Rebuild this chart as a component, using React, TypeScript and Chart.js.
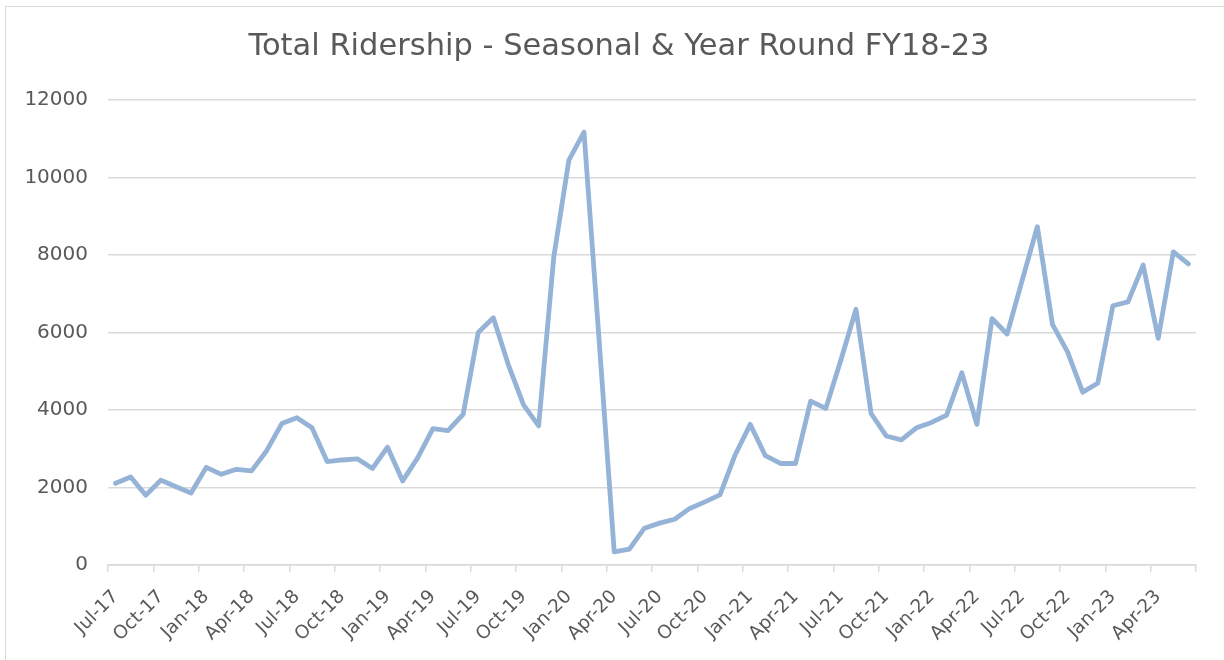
import React, { useEffect, useRef } from "react";
import { Chart, registerables } from "chart.js";

Chart.register(...registerables);

const TITLE = "Total Ridership - Seasonal & Year Round FY18-23";

const MONTHS: string[] = [
  "Jul-17", "Aug-17", "Sep-17", "Oct-17", "Nov-17", "Dec-17",
  "Jan-18", "Feb-18", "Mar-18", "Apr-18", "May-18", "Jun-18",
  "Jul-18", "Aug-18", "Sep-18", "Oct-18", "Nov-18", "Dec-18",
  "Jan-19", "Feb-19", "Mar-19", "Apr-19", "May-19", "Jun-19",
  "Jul-19", "Aug-19", "Sep-19", "Oct-19", "Nov-19", "Dec-19",
  "Jan-20", "Feb-20", "Mar-20", "Apr-20", "May-20", "Jun-20",
  "Jul-20", "Aug-20", "Sep-20", "Oct-20", "Nov-20", "Dec-20",
  "Jan-21", "Feb-21", "Mar-21", "Apr-21", "May-21", "Jun-21",
  "Jul-21", "Aug-21", "Sep-21", "Oct-21", "Nov-21", "Dec-21",
  "Jan-22", "Feb-22", "Mar-22", "Apr-22", "May-22", "Jun-22",
  "Jul-22", "Aug-22", "Sep-22", "Oct-22", "Nov-22", "Dec-22",
  "Jan-23", "Feb-23", "Mar-23", "Apr-23", "May-23", "Jun-23",
];

const RIDERSHIP: number[] = [
  2110, 2270, 1800, 2190, 2020, 1860,
  2520, 2340, 2470, 2430, 2950, 3650,
  3800, 3540, 2670, 2710, 2740, 2490,
  3040, 2170, 2770, 3520, 3470, 3890,
  6000, 6380, 5160, 4130, 3590, 7950,
  10450, 11170, 5800, 340, 410, 950,
  1080, 1180, 1460, 1630, 1810, 2840,
  3630, 2820, 2620, 2620, 4230, 4040,
  5290, 6600, 3910, 3330, 3230, 3540,
  3680, 3870, 4960, 3630, 6360, 5960,
  7350, 8730, 6210, 5500, 4460, 4690,
  6690, 6790, 7740, 5850, 8080, 7770,
];

const Y_MIN = 0;
const Y_MAX = 12000;
const Y_STEP = 2000;

const TEXT = "#595959";
const GRID = "#d9d9d9";
const LINE = "#95b3d7";
const FONT = "'DejaVu Sans', sans-serif";

const centeredTitle = {
  id: "centeredTitle",
  afterDraw(chart: any) {
    const ctx = chart.ctx;
    ctx.save();
    ctx.fillStyle = TEXT;
    ctx.font = `normal 30.5px ${FONT}`;
    ctx.textAlign = "center";
    ctx.textBaseline = "middle";
    ctx.fillText(TITLE, chart.width / 2, 40.5);
    ctx.restore();
  },
};

export default function App() {
  const ref = useRef<HTMLCanvasElement | null>(null);

  useEffect(() => {
    const prevOverflow = document.body.style.overflow;
    document.body.style.overflow = "hidden";
    if (!ref.current) return;
    const chart = new Chart(ref.current, {
      type: "line",
      data: {
        labels: MONTHS,
        datasets: [
          {
            data: RIDERSHIP,
            borderColor: LINE,
            backgroundColor: LINE,
            borderWidth: 4.8,
            pointRadius: 0,
            tension: 0,
            borderJoinStyle: "round",
            borderCapStyle: "round",
          },
        ],
      },
      options: {
        responsive: false,
        animation: false,
        devicePixelRatio: 1,
        layout: { padding: { left: 18, right: 36, top: 93, bottom: 0 } },
        plugins: {
          legend: { display: false },
          tooltip: { enabled: false },
          title: { display: false },
        },
        scales: {
          x: {
            offset: true,
            border: { display: true, color: GRID, width: 1.5 },
            grid: {
              display: true,
              offset: true,
              drawOnChartArea: false,
              drawTicks: true,
              tickLength: 7,
              lineWidth: 1.5,
              color: (ctx: any) =>
                ctx.index === undefined || ctx.index % 3 === 0 ? GRID : "rgba(0,0,0,0)",
            },
            ticks: {
              autoSkip: false,
              minRotation: 45,
              maxRotation: 45,
              padding: 14,
              color: TEXT,
              font: { family: FONT, size: 18.5 },
              callback: (_v: any, i: number) => (i % 3 === 0 ? MONTHS[i] : ""),
            },
            afterFit: (s: any) => {
              s.height = 95;
            },
          },
          y: {
            min: Y_MIN,
            max: Y_MAX,
            border: { display: false },
            grid: { color: GRID, lineWidth: 1.5, drawTicks: false },
            ticks: {
              stepSize: Y_STEP,
              padding: 20,
              color: TEXT,
              font: { family: FONT, size: 20 },
              callback: (v: any) => String(v),
            },
            afterFit: (s: any) => {
              s.width = 84;
            },
          },
        },
      },
      plugins: [centeredTitle],
    });
    return () => {
      chart.destroy();
      document.body.style.overflow = prevOverflow;
    };
  }, []);

  return (
    <div
      style={{
        position: "fixed",
        left: 0,
        top: 0,
        width: 1224,
        height: 660,
        overflow: "hidden",
        background: "#ffffff",
      }}
    >
      <div
        style={{
          position: "absolute",
          left: 5,
          top: 6,
          width: 1260,
          height: 700,
          border: "1px solid #d9d9d9",
          boxSizing: "border-box",
        }}
      />
      <canvas
        ref={ref}
        width={1226}
        height={653}
        style={{ position: "absolute", left: 6, top: 7, width: 1226, height: 653 }}
      />
    </div>
  );
}
